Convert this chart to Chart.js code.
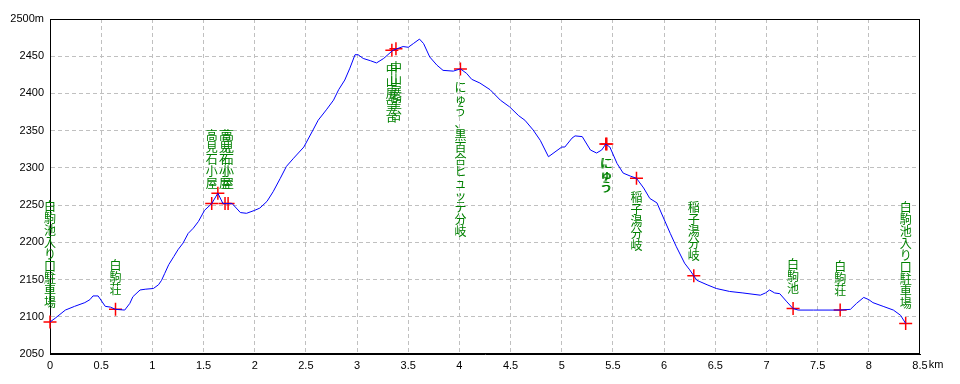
<!DOCTYPE html>
<html>
<head>
<meta charset="utf-8">
<script src="https://cdn.jsdelivr.net/npm/chart.js@4/dist/chart.umd.min.js"></script>
<style>
html,body{margin:0;padding:0;background:#fff;}
#wrap{width:960px;height:384px;}
</style>
</head>
<body>
<div id="wrap"><canvas id="c" width="960" height="384"></canvas></div>
<script>
// ---- data ----
const distKm = [0,0.05,0.15,0.24,0.34,0.39,0.42,0.47,0.51,0.54,
  0.59,0.64,0.73,0.78,0.81,0.88,0.93,1.01,1.06,1.09,
  1.12,1.16,1.21,1.25,1.30,1.35,1.40,1.45,1.51,1.58,
  1.64,1.69,1.78,1.86,1.92,2.00,2.05,2.12,2.18,2.25,
  2.31,2.38,2.48,2.57,2.62,2.70,2.77,2.82,2.88,2.93,
  2.98,3.01,3.06,3.13,3.19,3.26,3.35,3.45,3.50,3.55,
  3.61,3.65,3.71,3.78,3.84,3.94,4.01,4.07,4.12,4.20,
  4.30,4.40,4.49,4.58,4.64,4.72,4.79,4.87,5.00,5.03,
  5.10,5.13,5.20,5.28,5.34,5.39,5.43,5.47,5.54,5.60,
  5.67,5.73,5.80,5.86,5.93,5.99,6.06,6.12,6.20,6.25,
  6.29,6.32,6.42,6.51,6.64,6.77,6.94,6.99,7.03,7.08,
  7.13,7.20,7.26,7.31,7.46,7.72,7.82,7.88,7.95,8.00,
  8.04,8.14,8.24,8.31,8.36];
const elevM = [2093,2098,2109,2114,2119,2123,2128,2128,2120,2114,
  2113,2110,2109,2118,2127,2136,2137,2138,2143,2149,
  2158,2170,2181,2190,2199,2212,2219,2228,2243,2252,
  2266,2252,2252,2240,2239,2243,2246,2255,2268,2286,
  2302,2313,2328,2351,2364,2378,2391,2405,2418,2434,
  2452,2452,2447,2444,2441,2447,2458,2463,2462,2467,
  2473,2467,2449,2438,2431,2430,2433,2427,2419,2414,
  2405,2391,2382,2370,2364,2351,2337,2315,2328,2328,
  2340,2343,2342,2324,2320,2324,2332,2328,2306,2293,
  2289,2286,2273,2259,2253,2234,2212,2194,2172,2163,
  2155,2149,2143,2138,2134,2132,2129,2132,2136,2132,
  2131,2120,2111,2109,2109,2109,2110,2118,2126,2123,
  2119,2114,2109,2102,2091];

const markKm   = [0, 0.64, 1.58, 1.64, 1.71, 1.74, 3.34, 3.38, 4.01, 5.43, 5.44, 5.73, 6.29, 7.26, 7.72, 8.36];
const markElev = [2093, 2110, 2252, 2266, 2252, 2252, 2458, 2460, 2433, 2332, 2332, 2286, 2155, 2111, 2109, 2091];
const markName = ["白駒池入り口駐車場","白駒荘","高見石小屋","","高見石小屋","高見石小屋",
  "中山展望台","中山展望台","にゅう、黒百合ヒュッテ分岐","にゅう","にゅう",
  "稲子湯分岐","稲子湯分岐","白駒池","白駒荘","白駒池入り口駐車場"];

const yMin = 2050, yMax = 2500, yStep = 50, yUnit = "m";
const xMin = 0, xMax = 8.5, xStep = 0.5, xUnit = "km";

// ---- chart ----
const labelsBelow = [6,7,8,9,10,11];
const tickFont = {family: "'Liberation Sans', Arial, sans-serif", size: 11};

const framePlugin = {
  id: 'frame',
  beforeDatasetsDraw(chart) {
    const {ctx, chartArea: a} = chart;
    ctx.save();
    ctx.strokeStyle = '#000';
    ctx.lineWidth = 1;
    ctx.strokeRect(Math.round(a.left) + 0.5, Math.round(a.top) + 0.5,
      Math.round(a.right - a.left) - 1, Math.round(a.bottom - a.top) - 1);
    ctx.restore();
  },
  afterDraw(chart) {
    const {ctx, scales: {x}} = chart;
    ctx.save();
    ctx.font = "11px 'Liberation Sans', Arial, sans-serif";
    const w = ctx.measureText(String(xMax)).width;
    ctx.fillStyle = '#000';
    ctx.textAlign = 'left';
    ctx.textBaseline = 'top';
    ctx.fillText(xUnit, x.getPixelForValue(xMax) + w / 2 + 1, x.top + 5);
    ctx.restore();
  }
};

const labelPlugin = {
  id: 'vlabels',
  afterDatasetsDraw(chart) {
    const {ctx} = chart;
    const meta = chart.getDatasetMeta(1);
    ctx.save();
    ctx.font = "12px 'Noto Sans CJK JP', sans-serif";
    ctx.fillStyle = '#008000';
    ctx.textAlign = 'center';
    ctx.textBaseline = 'top';
    const pitch = 12;
    meta.data.forEach((pt, i) => {
      const name = markName[i];
      if (!name) return;
      const chars = Array.from(name);
      const below = labelsBelow.includes(i);
      const top = below ? pt.y + 13 : pt.y - 14 - chars.length * pitch;
      chars.forEach((c, j) => ctx.fillText(c, pt.x, top + j * pitch));
    });
    ctx.restore();
  }
};

const gridColor = (ctx) => {
  const v = ctx.tick ? ctx.tick.value : null;
  const s = ctx.scale;
  if (v === s.min || v === s.max) return 'rgba(0,0,0,0)';
  return '#c0c0c0';
};

new Chart(document.getElementById('c'), {
  type: 'line',
  data: {
    datasets: [
      {
        data: distKm.map((k, i) => ({x: k, y: elevM[i]})),
        borderColor: '#0000ff',
        borderWidth: 1,
        pointRadius: 0,
        tension: 0,
        fill: false
      },
      {
        data: markKm.map((k, i) => ({x: k, y: markElev[i]})),
        showLine: false,
        pointStyle: 'cross',
        pointRadius: 6.5,
        pointBorderColor: '#ff0000',
        pointBorderWidth: 1.5,
        borderColor: '#ff0000',
        clip: false
      }
    ]
  },
  options: {
    responsive: false,
    devicePixelRatio: 1,
    animation: false,
    layout: {padding: {top: 19, right: 40, left: 0, bottom: 0}},
    plugins: {legend: {display: false}, tooltip: {enabled: false}},
    scales: {
      x: {
        type: 'linear',
        min: xMin, max: xMax,
        afterFit(s) { s.height = 30; },
        ticks: {
          stepSize: xStep,
          padding: 5,
          color: '#000',
          font: tickFont,
          maxRotation: 0,
          autoSkip: false,
          callback: (v) => String(v)
        },
        grid: {color: gridColor, lineWidth: 1, drawTicks: false},
        border: {display: true, color: '#000', width: 1, dash: [4, 3]}
      },
      y: {
        type: 'linear',
        min: yMin, max: yMax,
        afterFit(s) { s.width = 50; },
        ticks: {
          stepSize: yStep,
          padding: 6,
          color: '#000',
          font: tickFont,
          autoSkip: false,
          callback: (v) => v === yMax ? v + yUnit : String(v)
        },
        grid: {color: gridColor, lineWidth: 1, drawTicks: false},
        border: {display: true, color: '#000', width: 1, dash: [4, 3]}
      }
    }
  },
  plugins: [framePlugin, labelPlugin]
});
</script>
</body>
</html>
